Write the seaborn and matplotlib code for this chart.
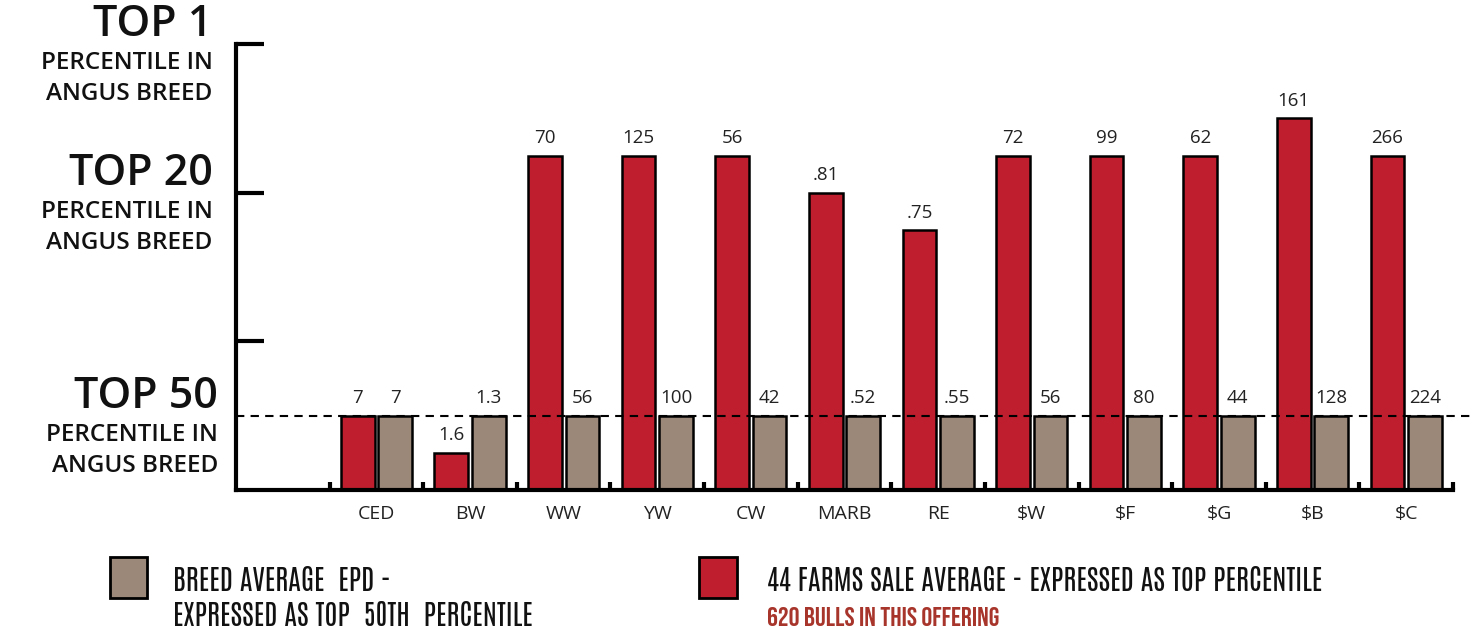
import matplotlib
matplotlib.use("Agg")
import pandas as pd
import seaborn as sns
import matplotlib.pyplot as plt
from matplotlib.patches import Rectangle

# EPD traits, one slot left empty before the first trait
categories = ["CED", "BW", "WW", "YW", "CW", "MARB", "RE", "$W", "$F", "$G", "$B", "$C"]
series = ["44 Farms", "Breed"]

# bar height on the percentile scale (0 = floor, 1 = top 50, 4 = top 20, 6 = top 1)
sale_level = [1, 0.5, 4.5, 4.5, 4.5, 4, 3.5, 4.5, 4.5, 4.5, 5, 4.5]
breed_level = [1, 1, 1, 1, 1, 1, 1, 1, 1, 1, 1, 1]

# EPD values printed above the bars
sale_epd = ["7", "1.6", "70", "125", "56", ".81", ".75", "72", "99", "62", "161", "266"]
breed_epd = ["7", "1.3", "56", "100", "42", ".52", ".55", "56", "80", "44", "128", "224"]

# y-axis tick levels and their captions
scale_ticks = [2, 4, 6]
scale_labels = [("TOP 1", 6), ("TOP 20", 4), ("TOP 50", 1)]

RED = "#BE1E2D"
TAUPE = "#9B8879"

sns.set_style("white", {"axes.edgecolor": "black"})
plt.rcParams["font.family"] = ["Open Sans", "DejaVu Sans"]
plt.rcParams["text.parse_math"] = False

df = pd.DataFrame({
    "trait": categories * 2,
    "series": [series[0]] * len(categories) + [series[1]] * len(categories),
    "level": sale_level + breed_level,
})

fig = plt.figure(figsize=(14.78, 6.3), dpi=100)
ax = fig.add_axes([236 / 1478, 1 - 490 / 630, 1217 / 1478, 446 / 630])

sns.barplot(df, x="trait", y="level", hue="series", order=[" "] + categories,
            hue_order=series, palette=[RED, TAUPE], saturation=1, width=0.8, gap=0.1,
            edgecolor="black", linewidth=1.8, errorbar=None, legend=False, ax=ax)

for cont, labels in zip(ax.containers, [sale_epd, breed_epd]):
    ax.bar_label(cont, labels=labels, padding=6, fontsize=13.5, color="#222222")

ax.set_xlim(-0.5, len(categories) + 0.5)
ax.set_ylim(0, 6)
ax.set_xlabel("")
ax.set_ylabel("")

# axis frame
for side in ["top", "right"]:
    ax.spines[side].set_visible(False)
ax.spines["left"].set_linewidth(3)
ax.spines["bottom"].set_linewidth(3)

ax.set_yticks(scale_ticks)
ax.tick_params(axis="y", left=True, direction="in", length=20, width=3,
               color="black", labelleft=False)
ax.set_xticks(range(len(categories) + 1))
ax.set_xticklabels([""] + categories)
ax.tick_params(axis="x", length=0, pad=11, labelsize=14, labelcolor="#222222")
ax.set_xticks([i + 0.5 for i in range(len(categories) + 1)], minor=True)
ax.tick_params(axis="x", which="minor", bottom=True, direction="in", length=6,
               width=3, color="black")

# top 50 reference line
ax.axhline(1, xmin=0, xmax=1.014, color="black", lw=1.5, ls=(0, (4, 3)),
           zorder=5, clip_on=False)

# captions on the percentile scale
ytrans = ax.get_yaxis_transform()
for title, lvl in scale_labels:
    dx = -13 if lvl == 1 else -17
    ax.annotate(title, xy=(0, lvl), xycoords=ytrans, xytext=(dx, 14),
                textcoords="offset points", ha="right", va="center",
                fontsize=31, fontweight="semibold", color="#111111",
                annotation_clip=False)
    ax.annotate("PERCENTILE IN", xy=(0, lvl), xycoords=ytrans, xytext=(dx, -14),
                textcoords="offset points", ha="right", va="center",
                fontsize=17.5, fontweight="semibold", color="#111111",
                annotation_clip=False)
    ax.annotate("ANGUS BREED", xy=(0, lvl), xycoords=ytrans, xytext=(dx, -36),
                textcoords="offset points", ha="right", va="center",
                fontsize=17.5, fontweight="semibold", color="#111111",
                annotation_clip=False)

# legend at the bottom
narrow = ["Antonio", "Oswald", "Archivo Narrow", "DejaVu Sans"]
narrow_bold = ["Bebas Neue", "Oswald", "Antonio", "DejaVu Sans"]
fig.patches.append(Rectangle((110 / 1478, 1 - 598 / 630), 37 / 1478, 41 / 630,
                             transform=fig.transFigure, facecolor=TAUPE,
                             edgecolor="black", lw=2))
fig.patches.append(Rectangle((699 / 1478, 1 - 598 / 630), 38 / 1478, 41 / 630,
                             transform=fig.transFigure, facecolor=RED,
                             edgecolor="black", lw=2))
fig.text(173 / 1478, 1 - 580 / 630, "BREED AVERAGE  EPD -", family=narrow,
         fontsize=20.5, va="center", color="#111111")
fig.text(173 / 1478, 1 - 615 / 630, "EXPRESSED AS TOP  50TH  PERCENTILE", family=narrow,
         fontsize=20.5, va="center", color="#111111")
fig.text(767 / 1478, 1 - 580 / 630, "44 FARMS SALE AVERAGE - EXPRESSED AS TOP PERCENTILE",
         family=narrow, fontsize=20.5, va="center", color="#111111")
fig.text(767 / 1478, 1 - 616 / 630, "620 BULLS IN THIS OFFERING", family=narrow_bold,
         fontsize=19.5, va="center", color="#A8352B")

plt.savefig("out.png", dpi=100)
